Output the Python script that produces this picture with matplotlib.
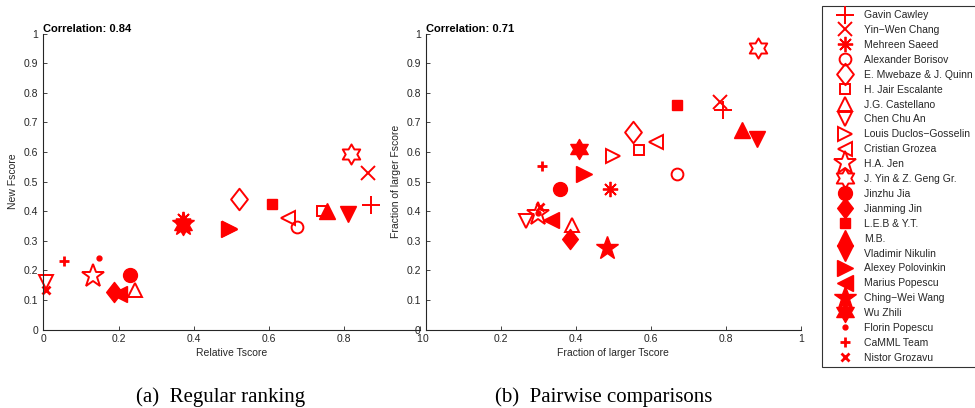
import numpy as np
import matplotlib
matplotlib.use("Agg")
import matplotlib.pyplot as plt
from matplotlib.path import Path
from matplotlib.ticker import FuncFormatter, FixedLocator

plt.rcParams['font.family'] = ['Liberation Sans', 'DejaVu Sans']

# ---------------- data ----------------
names = ["Gavin Cawley", "Yin\u2212Wen Chang", "Mehreen Saeed", "Alexander Borisov",
         "E. Mwebaze & J. Quinn", "H. Jair Escalante", "J.G. Castellano", "Chen Chu An",
         "Louis Duclos\u2212Gosselin", "Cristian Grozea", "H.A. Jen", "J. Yin & Z. Geng Gr.",
         "Jinzhu Jia", "Jianming Jin", "L.E.B & Y.T.", "M.B.", "Vladimir Nikulin",
         "Alexey Polovinkin", "Marius Popescu", "Ching\u2212Wei Wang", "Wu Zhili",
         "Florin Popescu", "CaMML Team", "Nistor Grozavu"]

rel_tscore = [0.871, 0.862, 0.372, 0.674, 0.520, 0.740, 0.244, 0.007, 0.496, 0.650, 0.132, 0.818,
              0.231, 0.187, 0.609, 0.754, 0.809, 0.493, 0.202, 0.372, 0.372, 0.147, 0.056, 0.007]
new_fscore = [0.420, 0.529, 0.375, 0.347, 0.440, 0.400, 0.133, 0.161, 0.340, 0.378, 0.180, 0.592,
              0.184, 0.127, 0.423, 0.400, 0.389, 0.340, 0.120, 0.356, 0.352, 0.242, 0.230, 0.135]

frac_tscore = [0.794, 0.786, 0.491, 0.669, 0.553, 0.569, 0.391, 0.267, 0.500, 0.614, 0.300, 0.887,
               0.358, 0.386, 0.669, 0.843, 0.884, 0.423, 0.335, 0.484, 0.408, 0.300, 0.311, 0.304]
frac_fscore = [0.741, 0.769, 0.476, 0.527, 0.668, 0.606, 0.352, 0.367, 0.586, 0.634, 0.389, 0.952,
               0.473, 0.305, 0.758, 0.673, 0.642, 0.527, 0.369, 0.274, 0.611, 0.395, 0.553, 0.414]

corr_a = "0.84"
corr_b = "0.71"
x_ticks = [0, 0.2, 0.4, 0.6, 0.8, 1]
y_ticks = [0, 0.1, 0.2, 0.3, 0.4, 0.5, 0.6, 0.7, 0.8, 0.9, 1]

# ---------------- marker styles ----------------
def hexagram():
    r_in = 1 / np.sqrt(3)
    verts = []
    for k in range(12):
        a = np.deg2rad(90 + 30 * k)
        r = 1.0 if k % 2 == 0 else r_in
        verts.append((r * np.cos(a), r * np.sin(a)))
    verts.append(verts[0])
    codes = [Path.MOVETO] + [Path.LINETO] * 11 + [Path.CLOSEPOLY]
    return Path(verts, codes)

def diamond():
    verts = [(0, 1), (0.78, 0), (0, -1), (-0.78, 0), (0, 1)]
    codes = [Path.MOVETO, Path.LINETO, Path.LINETO, Path.LINETO, Path.CLOSEPOLY]
    return Path(verts, codes)

HEX = hexagram()
DIA = diamond()
AST = (8, 2, 0)

# (marker, filled, size, linewidth)
styles = [
    ('+', False, 12.5, 1.4), ('x', False, 9.5, 1.4), (AST, False, 11, 1.3), ('o', False, 8.5, 1.4),
    (DIA, False, 15.5, 1.4), ('s', False, 7.5, 1.4), ('^', False, 10.5, 1.4), ('v', False, 10.5, 1.4),
    ('>', False, 10.5, 1.4), ('<', False, 10.5, 1.4), ('*', False, 17, 1.4), (HEX, False, 14.5, 1.4),
    ('o', True, 10, 1.0), (DIA, True, 14.5, 1.0), ('s', True, 7.5, 1.0), ('^', True, 11, 1.0),
    ('v', True, 11, 1.0), ('>', True, 11, 1.0), ('<', True, 11, 1.0), ('*', True, 17, 1.0),
    (HEX, True, 14.5, 1.0), ('o', True, 3.5, 1.0), ('+', False, 6.5, 2.0), ('x', False, 5.5, 2.0),
]

RED = (1, 0, 0)
AXC = (0.15, 0.15, 0.15)

W, H = 975, 408
fig = plt.figure(figsize=(W / 100, H / 100), dpi=100)

ax_top, ax_bot = 33.5, 329.5
ax1 = fig.add_axes([43.3 / W, (H - ax_bot) / H, 376.2 / W, (ax_bot - ax_top) / H])
ax2 = fig.add_axes([425.7 / W, (H - ax_bot) / H, 375.0 / W, (ax_bot - ax_top) / H])

def fmt(v, pos):
    return "%g" % v

def setup(ax, xlabel, ylabel, corr):
    ax.set_xlim(0, 1)
    ax.set_ylim(0, 1)
    for s in ['top', 'right']:
        ax.spines[s].set_visible(False)
    for s in ['left', 'bottom']:
        ax.spines[s].set_color(AXC)
        ax.spines[s].set_linewidth(0.8)
    ax.xaxis.set_major_locator(FixedLocator(x_ticks))
    ax.yaxis.set_major_locator(FixedLocator(y_ticks))
    ax.xaxis.set_major_formatter(FuncFormatter(fmt))
    ax.yaxis.set_major_formatter(FuncFormatter(fmt))
    ax.tick_params(direction='in', length=3, width=0.6, color=AXC, labelcolor=AXC,
                   labelsize=7.5, pad=3.5)
    ax.set_xlabel(xlabel, fontsize=7.5, color=AXC, labelpad=2.5)
    ax.set_ylabel(ylabel, fontsize=7.5, color=AXC, labelpad=4)
    ax.annotate("Correlation: " + corr, xy=(0, 1), xycoords='axes fraction',
                xytext=(0, 1.3), textcoords='offset points', ha='left', va='baseline',
                fontsize=8, fontweight='bold', color='black', annotation_clip=False)
    ax.patch.set_alpha(0)

handles = []
for i, name in enumerate(names):
    m, filled, ms, lw = styles[i]
    kw = dict(marker=m, linestyle='none', markersize=ms, markeredgewidth=lw,
              markeredgecolor=RED, markerfacecolor=RED if filled else 'none', clip_on=False)
    h, = ax1.plot([rel_tscore[i]], [new_fscore[i]], label=name, **kw)
    ax2.plot([frac_tscore[i]], [frac_fscore[i]], **kw)
    handles.append(h)

setup(ax1, "Relative Tscore", "New Fscore", corr_a)
setup(ax2, "Fraction of larger Tscore", "Fraction of larger Fscore", corr_b)

leg = fig.legend(handles, names, loc='upper left',
                 bbox_to_anchor=(822 / W, 1 - 6 / H), bbox_transform=fig.transFigure,
                 frameon=True, fancybox=False, shadow=False, edgecolor='black',
                 borderpad=0.4, labelspacing=0.47, handlelength=3.6, handletextpad=0.05,
                 fontsize=7.5, borderaxespad=0, numpoints=1)
leg.get_frame().set_linewidth(0.8)
for t in leg.get_texts():
    t.set_color(AXC)

cap_kw = dict(ha='center', va='baseline', fontsize=15, family=['Liberation Serif', 'DejaVu Serif'])
fig.text(221 / W, 1 - 402 / H, "(a)  Regular ranking", **cap_kw)
fig.text(604 / W, 1 - 402 / H, "(b)  Pairwise comparisons", **cap_kw)

fig.savefig("out.png", dpi=100)
